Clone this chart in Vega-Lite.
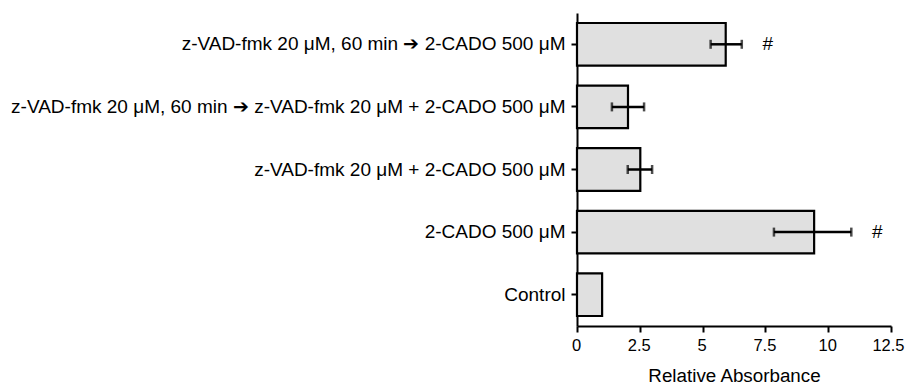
{
  "$schema": "https://vega.github.io/schema/vega-lite/v6.json",
  "autosize": "none",
  "width": 314,
  "height": 313,
  "padding": {"left": 577, "top": 13, "right": 15, "bottom": 59},
  "background": "white",
  "data": {
    "values": [
      {"group": "z-VAD-fmk 20 μM, 60 min ➔ 2-CADO 500 μM", "value": 5.92, "lo": 5.32, "hi": 6.56, "sig": "#"},
      {"group": "z-VAD-fmk 20 μM, 60 min ➔ z-VAD-fmk 20 μM + 2-CADO 500 μM", "value": 2.03, "lo": 1.39, "hi": 2.67, "sig": ""},
      {"group": "z-VAD-fmk 20 μM + 2-CADO 500 μM", "value": 2.52, "lo": 2.02, "hi": 2.99, "sig": ""},
      {"group": "2-CADO 500 μM", "value": 9.44, "lo": 7.84, "hi": 10.92, "sig": "#"},
      {"group": "Control", "value": 1.0, "lo": 1.0, "hi": 1.0, "sig": ""}
    ]
  },
  "config": {
    "view": {"stroke": null},
    "font": "Liberation Sans",
    "axis": {
      "labelFont": "Liberation Sans",
      "titleFont": "Liberation Sans",
      "labelColor": "black",
      "titleColor": "black",
      "domainColor": "black",
      "tickColor": "black",
      "domainWidth": 2,
      "tickWidth": 2,
      "tickSize": 6,
      "grid": false,
      "labelFontSize": 19,
      "titleFontSize": 18.8,
      "titleFontWeight": "normal"
    }
  },
  "encoding": {
    "y": {
      "field": "group",
      "type": "nominal",
      "sort": null,
      "scale": {"paddingInner": 0.32, "paddingOuter": 0.16},
      "axis": {"title": null, "labelPadding": 6, "labelLimit": 700}
    }
  },
  "layer": [
    {
      "mark": {"type": "bar", "fill": "#e0e0e0", "stroke": "black", "strokeWidth": 2.2},
      "encoding": {
        "x": {
          "field": "value",
          "type": "quantitative",
          "scale": {"domain": [0, 12.5], "nice": false},
          "axis": {
            "title": "Relative Absorbance",
            "values": [0, 2.5, 5, 7.5, 10, 12.5],
            "format": ".1~f",
            "labelFontSize": 16.5,
            "labelPadding": 5,
            "titlePadding": 13,
            "labelFlush": false,
            "labelOverlap": false,
            "labelOffset": {"condition": {"test": "datum.value == 12.5", "value": -3}, "value": -1}
          }
        }
      }
    },
    {
      "transform": [{"filter": "datum.hi > datum.lo"}],
      "mark": {"type": "rule", "color": "black", "strokeWidth": 2.5},
      "encoding": {
        "x": {"field": "lo", "type": "quantitative"},
        "x2": {"field": "hi"}
      }
    },
    {
      "transform": [{"filter": "datum.hi > datum.lo"}],
      "mark": {"type": "tick", "color": "black", "size": 9, "thickness": 2.5},
      "encoding": {"x": {"field": "lo", "type": "quantitative"}}
    },
    {
      "transform": [{"filter": "datum.hi > datum.lo"}],
      "mark": {"type": "tick", "color": "black", "size": 9, "thickness": 2.5},
      "encoding": {"x": {"field": "hi", "type": "quantitative"}}
    },
    {
      "mark": {"type": "text", "dx": 26, "fontSize": 19, "color": "black", "align": "center", "baseline": "middle", "font": "Liberation Sans"},
      "encoding": {
        "x": {"field": "hi", "type": "quantitative"},
        "text": {"field": "sig"}
      }
    }
  ]
}
